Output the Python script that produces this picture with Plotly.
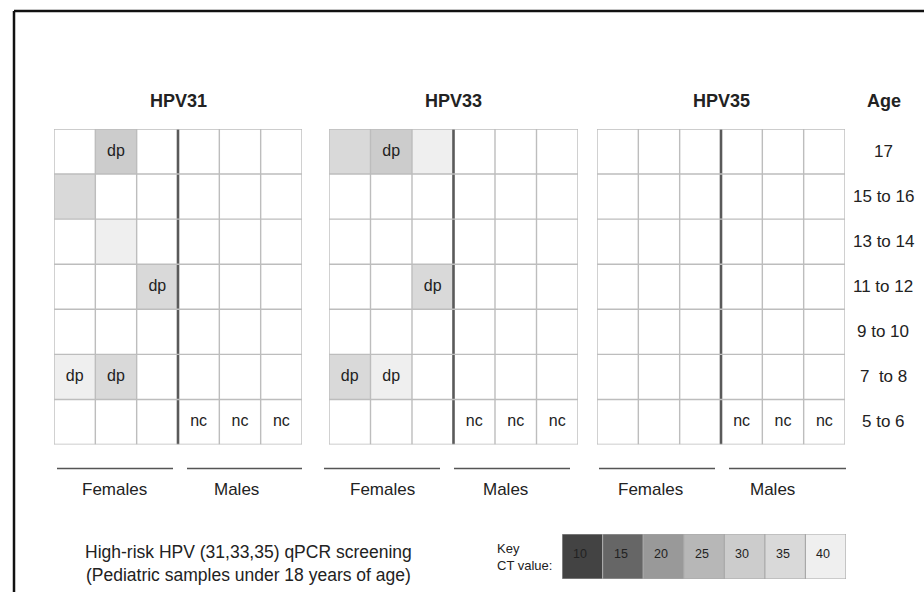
import plotly.graph_objects as go

# ---------------- data ----------------
ages = ["17", "15 to 16", "13 to 14", "11 to 12", "9 to 10", "7  to 8", "5 to 6"]
columns = ["F1", "F2", "F3", "M1", "M2", "M3"]
panels = ["HPV31", "HPV33", "HPV35"]

N = None
hpv31_ct = [
    [N, 30, N, N, N, N],
    [35, N, N, N, N, N],
    [N, 40, N, N, N, N],
    [N, N, 35, N, N, N],
    [N, N, N, N, N, N],
    [40, 35, N, N, N, N],
    [N, N, N, N, N, N],
]
hpv31_txt = [
    ["", "dp", "", "", "", ""],
    ["", "", "", "", "", ""],
    ["", "", "", "", "", ""],
    ["", "", "dp", "", "", ""],
    ["", "", "", "", "", ""],
    ["dp", "dp", "", "", "", ""],
    ["", "", "", "nc", "nc", "nc"],
]
hpv33_ct = [
    [35, 30, 40, N, N, N],
    [N, N, N, N, N, N],
    [N, N, N, N, N, N],
    [N, N, 35, N, N, N],
    [N, N, N, N, N, N],
    [35, 40, N, N, N, N],
    [N, N, N, N, N, N],
]
hpv33_txt = [
    ["", "dp", "", "", "", ""],
    ["", "", "", "", "", ""],
    ["", "", "", "", "", ""],
    ["", "", "dp", "", "", ""],
    ["", "", "", "", "", ""],
    ["dp", "dp", "", "", "", ""],
    ["", "", "", "nc", "nc", "nc"],
]
hpv35_ct = [[N] * 6 for _ in range(7)]
hpv35_txt = [
    ["", "", "", "", "", ""],
    ["", "", "", "", "", ""],
    ["", "", "", "", "", ""],
    ["", "", "", "", "", ""],
    ["", "", "", "", "", ""],
    ["", "", "", "", "", ""],
    ["", "", "", "nc", "nc", "nc"],
]

key_ct = [10, 15, 20, 25, 30, 35, 40]
key_colors = ["#434343", "#666666", "#999999", "#b7b7b7", "#cccccc", "#d9d9d9", "#efefef"]

sex_labels = ["Females", "Males"]
caption = "High-risk HPV (31,33,35) qPCR screening<br>(Pediatric samples under 18 years of age)"

# ---------------- layout helpers ----------------
W, H = 924, 592
FONT = "Liberation Sans, Arial, sans-serif"
TXT = "#222222"


def px(x):
    return x / W


def py(y):
    return 1 - y / H


# discrete grey colour scale: each key value owns one band
nk = len(key_ct)
step = key_ct[1] - key_ct[0]
zmin, zmax = key_ct[0] - step / 2, key_ct[-1] + step / 2
cscale = []
for i, c in enumerate(key_colors):
    cscale.append([i / nk, c])
    cscale.append([(i + 1) / nk, c])

grid_dom = [(54, 302), (329, 578), (597, 845)]
grid_top, grid_bot = 129, 444.5
xrefs = ["x", "x2", "x3"]

fig = go.Figure()
cts = [hpv31_ct, hpv33_ct, hpv35_ct]
txts = [hpv31_txt, hpv33_txt, hpv35_txt]
xs = list(range(len(columns)))
ys = list(range(len(ages)))

for k in range(3):
    fig.add_trace(go.Heatmap(
        z=cts[k], x=xs, y=ys, colorscale=cscale, zmin=zmin, zmax=zmax,
        showscale=False, hoverinfo="skip", xaxis=xrefs[k], yaxis="y"))
    tx, ty, tt = [], [], []
    for r, row in enumerate(txts[k]):
        for c, t in enumerate(row):
            if t:
                tx.append(c); ty.append(r); tt.append(t)
    fig.add_trace(go.Scatter(
        x=tx, y=ty, text=tt, mode="text", textposition="middle center",
        textfont=dict(size=16, color=TXT, family=FONT), hoverinfo="skip",
        showlegend=False, xaxis=xrefs[k], yaxis="y"))

# key heatmap
fig.add_trace(go.Heatmap(
    z=[key_ct], x=list(range(nk)), y=[0], colorscale=cscale, zmin=zmin, zmax=zmax,
    showscale=False, hoverinfo="skip", xaxis="x4", yaxis="y2"))

shapes = []
ncol, nrow = len(columns), len(ages)
for k in range(3):
    for i in range(ncol + 1):
        thick = (i == 3)
        shapes.append(dict(type="line", xref=xrefs[k], yref="y",
                           x0=i - 0.5, x1=i - 0.5, y0=-0.5, y1=nrow - 0.5,
                           line=dict(color="#5a5a5a" if thick else "#bdbdbd",
                                     width=2.6 if thick else 1.4),
                           layer="above"))
    for j in range(nrow + 1):
        shapes.append(dict(type="line", xref=xrefs[k], yref="y",
                           x0=-0.5, x1=ncol - 0.5, y0=j - 0.5, y1=j - 0.5,
                           line=dict(color="#bdbdbd", width=1.4), layer="above"))

# key borders
for i in range(nk + 1):
    shapes.append(dict(type="line", xref="x4", yref="y2", x0=i - 0.5, x1=i - 0.5,
                       y0=-0.5, y1=0.5, line=dict(color="#a8a8a8", width=1.2), layer="above"))
for j in (-0.5, 0.5):
    shapes.append(dict(type="line", xref="x4", yref="y2", x0=-0.5, x1=nk - 0.5,
                       y0=j, y1=j, line=dict(color="#a8a8a8", width=1.2), layer="above"))

# Females / Males underlines
under = [[(57, 173), (187, 302)], [(324, 440), (454, 570)], [(599, 715), (729, 846)]]
for k in range(3):
    for a, b in under[k]:
        shapes.append(dict(type="line", xref="paper", yref="paper",
                           x0=px(a), x1=px(b), y0=py(468.5), y1=py(468.5),
                           line=dict(color="#555555", width=1.3)))

# outer frame (top and left edges)
shapes.append(dict(type="line", xref="paper", yref="paper", x0=px(14), x1=1.01,
                   y0=py(11), y1=py(11), line=dict(color="#111111", width=2.5)))
shapes.append(dict(type="line", xref="paper", yref="paper", x0=px(14), x1=px(14),
                   y0=py(11), y1=-0.01, line=dict(color="#111111", width=2.5)))

ann = []


def note(text, x, y, xref="paper", yref="paper", size=17, xanchor="center", align="center"):
    ann.append(dict(text=text, xref=xref, yref=yref, x=x, y=y, xanchor=xanchor,
                    yanchor="middle", align=align, showarrow=False,
                    font=dict(size=size, color=TXT, family=FONT)))


for k in range(3):
    a, b = grid_dom[k]
    note("<b>%s</b>" % panels[k], px((a + b) / 2), py(101), size=18)
note("<b>Age</b>", px(884), py(101), size=18)
for r, lab in enumerate(ages):
    note(lab.replace("  ", "&nbsp; "), px(883), r, yref="y", size=17)

sex_x = [(114, 236), (382, 505), (650, 772)]
for k in range(3):
    for s, xx in zip(sex_labels, sex_x[k]):
        note(s, px(xx), py(489), size=17)

note(caption, px(248), py(563), size=17.5)
note("Key<br>CT value:", px(495), py(557), size=13, xanchor="left", align="left")
for i, v in enumerate(key_ct):
    note(str(v), i - 0.5 + 0.22, 0.06, xref="x4", yref="y2", size=12.5, xanchor="left")

hidden = dict(visible=False, showgrid=False, zeroline=False, fixedrange=True)
fig.update_layout(
    width=W, height=H, margin=dict(l=0, r=0, t=0, b=0),
    paper_bgcolor="white", plot_bgcolor="white", showlegend=False,
    xaxis=dict(domain=[px(grid_dom[0][0]), px(grid_dom[0][1])], range=[-0.5, ncol - 0.5], anchor="y", **hidden),
    xaxis2=dict(domain=[px(grid_dom[1][0]), px(grid_dom[1][1])], range=[-0.5, ncol - 0.5], anchor="y", **hidden),
    xaxis3=dict(domain=[px(grid_dom[2][0]), px(grid_dom[2][1])], range=[-0.5, ncol - 0.5], anchor="y", **hidden),
    yaxis=dict(domain=[py(grid_bot), py(grid_top)], range=[nrow - 0.5, -0.5], anchor="x", **hidden),
    xaxis4=dict(domain=[px(562), px(846)], range=[-0.5, nk - 0.5], anchor="y2", **hidden),
    yaxis2=dict(domain=[py(579), py(534)], range=[-0.5, 0.5], anchor="x4", **hidden),
    shapes=shapes, annotations=ann,
)

fig.write_html("out.html", config={"displayModeBar": False},
               post_script="document.body.style.margin='0px';document.body.style.overflow='hidden';")
